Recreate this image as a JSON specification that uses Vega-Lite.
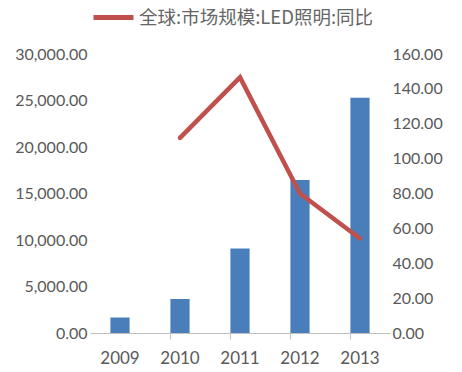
{
  "$schema": "https://vega.github.io/schema/vega-lite/v6.json",
  "autosize": "none",
  "width": 300,
  "height": 279,
  "padding": {"left": 90, "top": 54, "right": 72, "bottom": 39},
  "background": "white",
  "config": {
    "view": {"stroke": null},
    "font": "Lato",
    "axis": {"labelColor": "#595959", "labelFont": "Lato", "labelFontSize": 16, "grid": false}
  },
  "data": {
    "values": [
      {"year": "2009", "market": 1660, "yoy": null},
      {"year": "2010", "market": 3660, "yoy": 111.9},
      {"year": "2011", "market": 9085, "yoy": 146.6},
      {"year": "2012", "market": 16440, "yoy": 80.0},
      {"year": "2013", "market": 25300, "yoy": 54.2}
    ]
  },
  "encoding": {
    "x": {
      "field": "year",
      "type": "nominal",
      "sort": null,
      "scale": {"paddingInner": 0.68, "paddingOuter": 0.34},
      "axis": {
        "title": null,
        "labelAngle": 0,
        "bandPosition": 0,
        "domainColor": "#BFBFBF",
        "domainWidth": 1,
        "tickColor": "#BFBFBF",
        "tickSize": 6,
        "tickOpacity": {"condition": {"test": "datum.value == '2009'", "value": 0}, "value": 1},
        "labelPadding": 11,
        "labelFontSize": 17
      }
    }
  },
  "layer": [
    {
      "mark": {"type": "bar", "color": "#4A7EBB"},
      "encoding": {
        "y": {
          "field": "market",
          "type": "quantitative",
          "scale": {"domain": [0, 30000]},
          "axis": {
            "title": null,
            "values": [0, 5000, 10000, 15000, 20000, 25000, 30000],
            "format": ",.2f",
            "ticks": false,
            "domain": false,
            "labelPadding": 3
          }
        }
      }
    },
    {
      "mark": {"type": "line", "strokeWidth": 4.5, "strokeCap": "round", "strokeJoin": "miter"},
      "encoding": {
        "y": {
          "field": "yoy",
          "type": "quantitative",
          "scale": {"domain": [0, 160]},
          "axis": {
            "title": null,
            "orient": "right",
            "values": [0, 20, 40, 60, 80, 100, 120, 140, 160],
            "format": ".2f",
            "ticks": false,
            "domain": false,
            "labelPadding": 2
          }
        },
        "color": {
          "datum": "全球:市场规模:LED照明:同比",
          "type": "nominal",
          "scale": {"range": ["#C0504D"]},
          "legend": {
            "title": null,
            "orient": "none",
            "legendX": 1,
            "legendY": -59,
            "symbolType": "stroke",
            "symbolSize": 1600,
            "symbolStrokeWidth": 5,
            "labelFont": "Noto Sans CJK SC",
            "labelFontSize": 18.5,
            "labelLimit": 0,
            "labelColor": "#666666",
            "labelOffset": 3
          }
        }
      }
    }
  ],
  "resolve": {"scale": {"y": "independent"}}
}
